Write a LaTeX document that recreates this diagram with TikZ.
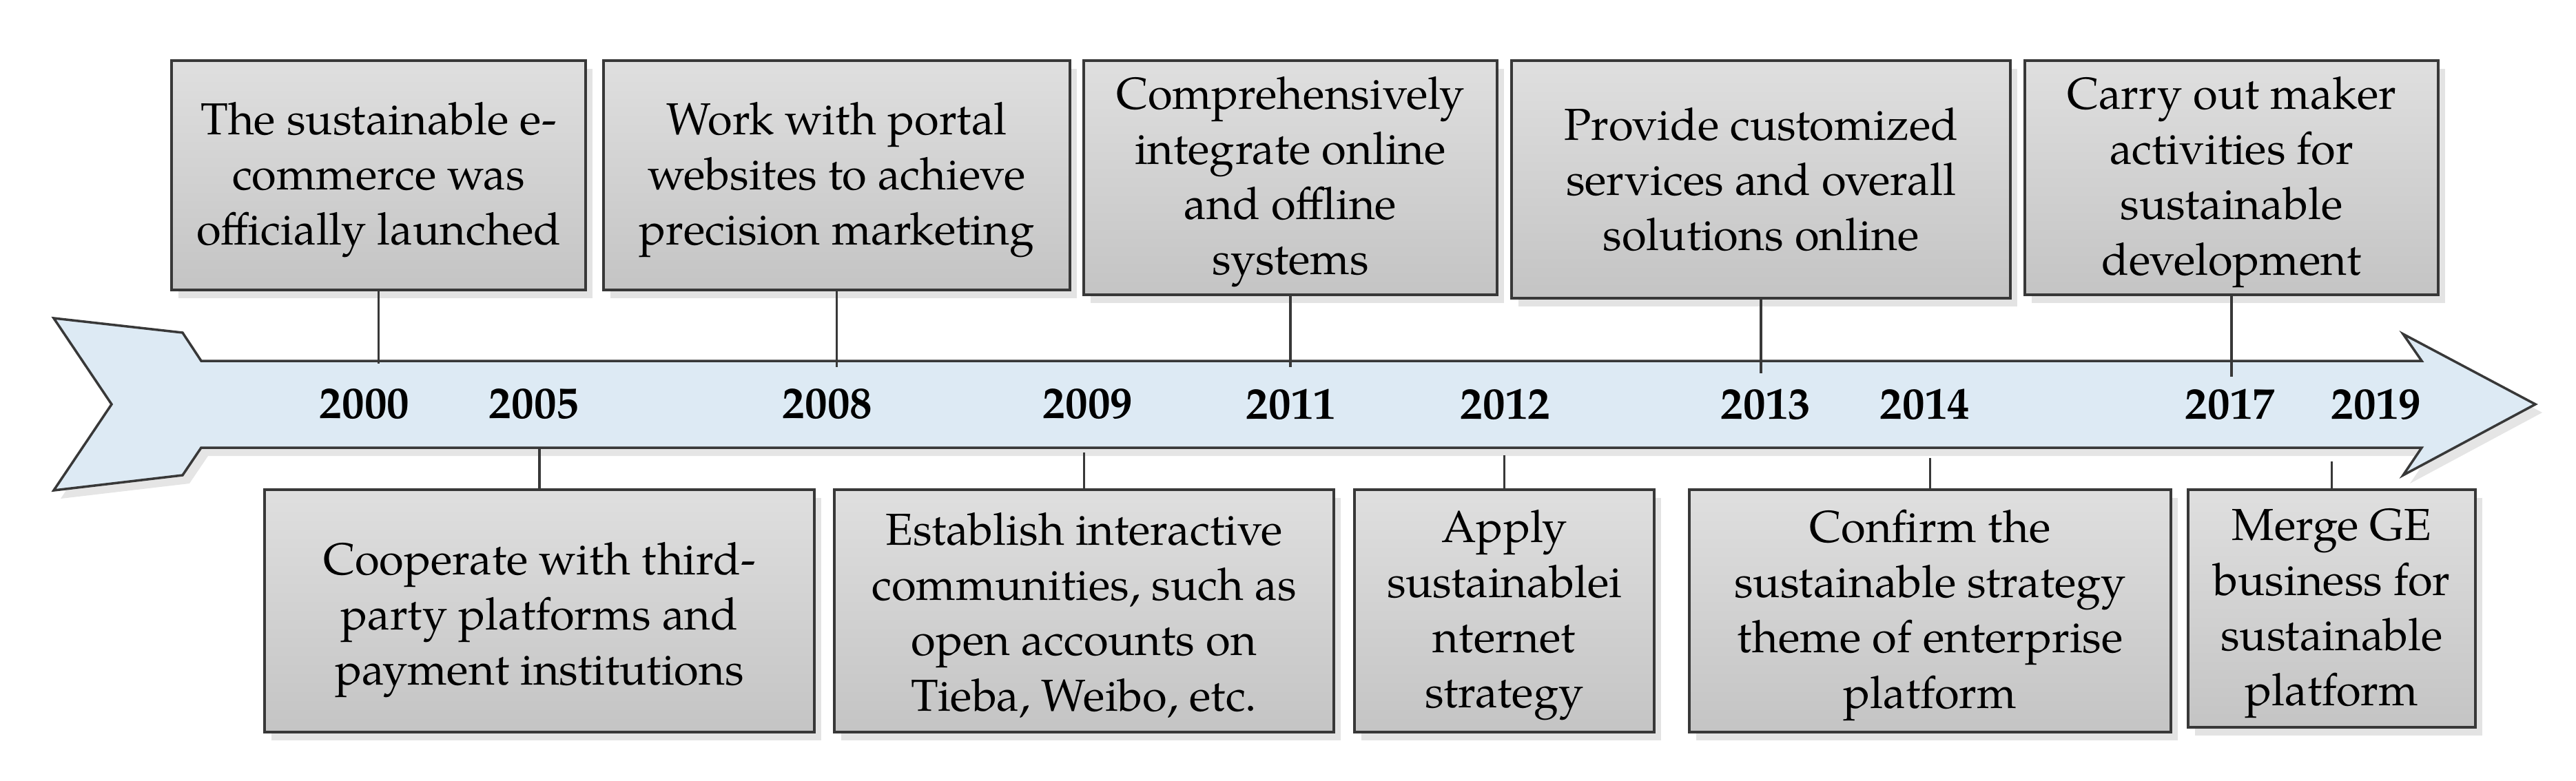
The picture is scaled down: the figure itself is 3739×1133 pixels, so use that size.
\documentclass[tikz,border=0pt]{standalone}
\usepackage{fontspec}
\setmainfont{texgyrepagella}[Extension=.otf,UprightFont=*-regular,BoldFont=*-bold,ItalicFont=*-italic,BoldItalicFont=*-bolditalic]
\usetikzlibrary{shadows}
\definecolor{edge}{HTML}{383838}
\definecolor{boxtop}{HTML}{DFDFDF}
\definecolor{boxbot}{HTML}{C4C4C4}
\definecolor{arrowfill}{HTML}{DDEAF4}
\newcommand\tstrut[1][17pt]{\rule{0pt}{#1}}
\begin{document}
\begin{tikzpicture}[x=0.01cm,y=-0.01cm,
  evbox/.style={draw=edge, line width=1.2pt, top color=boxtop, bottom color=boxbot,
    align=center, inner sep=0pt, font=\fontsize{18.5}{22.8}\selectfont,
    drop shadow={shadow xshift=0.1cm, shadow yshift=-0.12cm, opacity=0.22, fill=black!50}},
  yearlbl/.style={font=\fontsize{18.5}{22}\selectfont\bfseries, inner sep=0pt},
  link/.style={draw=edge, line width=1pt},
  timearrow/.style={draw=edge, line width=1pt, fill=arrowfill, line join=miter,
    drop shadow={shadow xshift=0.1cm, shadow yshift=-0.12cm, opacity=0.2, fill=black!50}}]
\useasboundingbox (0,0) rectangle (3739,1133);
\fill[white] (0,0) rectangle (3739,1133);

% timeline arrow
\path[timearrow] (78,462) -- (265,483) -- (292,524) -- (3515,524) -- (3488,485) -- (3680,587)
  -- (3488,690) -- (3515,650) -- (292,650) -- (265,690) -- (78,712) -- (162,587) -- cycle;

% years
\node[yearlbl] (y2000) at (529,587) {2000};
\node[yearlbl] (y2005) at (775,587) {2005};
\node[yearlbl] (y2008) at (1201,587) {2008};
\node[yearlbl] (y2009) at (1579,587) {2009};
\node[yearlbl] (y2011) at (1874,587) {2011};
\node[yearlbl] (y2012) at (2185,587) {2012};
\node[yearlbl] (y2013) at (2563,587) {2013};
\node[yearlbl] (y2014) at (2794,587) {2014};
\node[yearlbl] (y2017) at (3237,587) {2017};
\node[yearlbl] (y2019) at (3449,587) {2019};

% top boxes
\node[evbox, minimum width=6.01cm, minimum height=3.33cm] (B1) at (549.5,254.5)
  {\tstrut The sustainable e-\\commerce was\\officially launched};
\node[evbox, minimum width=6.77cm, minimum height=3.33cm] (B2) at (1214.5,254.5)
  {\tstrut Work with portal\\websites to achieve\\precision marketing};
\node[evbox, minimum width=6.00cm, minimum height=3.40cm] (B3) at (1873,258)
  {\tstrut Comprehensively\\integrate online\\and offline\\systems};
\node[evbox, minimum width=7.24cm, minimum height=3.45cm] (B4) at (2556,260.5)
  {Provide customized\\services and overall\\solutions online};
\node[evbox, minimum width=6.00cm, minimum height=3.40cm] (B5) at (3239,258)
  {\tstrut Carry out maker\\activities for\\sustainable\\development};

% bottom boxes
\node[evbox, minimum width=7.98cm, minimum height=3.52cm] (B6) at (783,887)
  {\tstrut[21pt]Cooperate with third-\\party platforms and\\payment institutions};
\node[evbox, minimum width=7.25cm, minimum height=3.52cm] (B7) at (1573.5,887)
  {\tstrut Establish interactive\\communities, such as\\open accounts on\\Tieba, Weibo, etc.};
\node[evbox, minimum width=4.35cm, minimum height=3.52cm] (B8) at (2183.5,887)
  {\tstrut Apply\\sustainablei\\nternet\\strategy};
\node[evbox, minimum width=6.99cm, minimum height=3.52cm] (B9) at (2801.5,887)
  {\tstrut Confirm the\\sustainable strategy\\theme of enterprise\\platform};
\node[evbox, minimum width=4.17cm, minimum height=3.45cm] (B10) at (3384.5,883.5)
  {\tstrut Merge GE\\business for\\sustainable\\platform};

% connector end points on the arrow
\coordinate (c1) at (B1.south |- 0,528);
\coordinate (c2) at (B2.south |- 0,533);
\coordinate (c3) at (B3.south |- 0,533);
\coordinate (c4) at (B4.south |- 0,542);
\coordinate (c5) at (B5.south |- 0,547);
\coordinate (c6) at (B6.north |- 0,649);
\coordinate (c7) at (B7.north |- 0,657);
\coordinate (c8) at (B8.north |- 0,661);
\coordinate (c9) at (B9.north |- 0,665);
\coordinate (c10) at (B10.north |- 0,670);

\draw[link] (B1.south) -- (c1);
\draw[link] (B2.south) -- (c2);
\draw[link] (B3.south) -- (c3);
\draw[link] (B4.south) -- (c4);
\draw[link] (B5.south) -- (c5);
\draw[link] (c6) -- (B6.north);
\draw[link] (c7) -- (B7.north);
\draw[link] (c8) -- (B8.north);
\draw[link] (c9) -- (B9.north);
\draw[link] (c10) -- (B10.north);
\end{tikzpicture}
\end{document}
